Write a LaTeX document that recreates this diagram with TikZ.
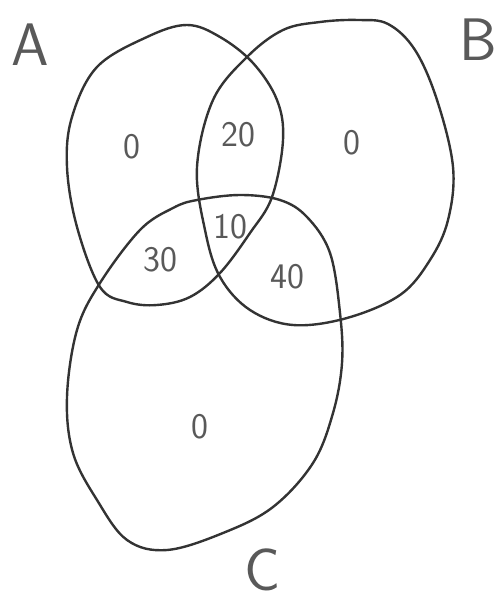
\documentclass[tikz,border=0pt]{standalone}
\begin{document}
\begin{tikzpicture}[x=0.5pt,y=-0.5pt,
  setline/.style={draw=black!80,line width=1.2pt,line join=round},
  letter/.style={text=black!65,font=\sffamily\fontsize{30}{32}\selectfont,inner sep=0pt},
  count/.style={text=black!65,font=\sffamily\fontsize{18}{20}\selectfont,inner sep=0pt}]
\useasboundingbox (0,0) rectangle (499,603);
% set A
\draw[setline] plot[smooth cycle,tension=0.6] coordinates {
 (147,37) (97,67) (72,117) (67,167) (77,227) (100,287) (127,302) (157,305)
 (190,297) (220,273) (250,233) (272,197) (283,140) (277,100) (253,63)
 (220,37) (187,25)};
% set B
\draw[setline] plot[smooth cycle,tension=0.6] coordinates {
 (197,167) (213,100) (247,57) (283,30) (320,22) (358,20) (388,24) (415,50)
 (437,100) (453,167) (448,220) (430,260) (400,295) (347,318) (293,325)
 (250,310) (220,277) (205,230)};
% set C
\draw[setline] plot[smooth cycle,tension=0.6] coordinates {
 (197,200) (240,195) (280,200) (307,217) (330,253) (340,313) (342,363)
 (333,413) (313,463) (273,507) (223,533) (167,550) (127,540) (97,500)
 (73,453) (67,397) (77,330) (100,283) (140,230) (173,208)};
% set labels
\node[letter] (la) at (30,45) {A};
\node[letter] (lb) at (478,40) {B};
\node[letter] (lc) at (263,570) {C};
% region counts
\node[count] (onlyA) at (132,147) {0};
\node[count] (ab) at (238,135) {20};
\node[count] (onlyB) at (352,143) {0};
\node[count] (abc) at (230,227) {10};
\node[count] (ac) at (160,260) {30};
\node[count] (bc) at (287,277) {40};
\node[count] (onlyC) at (200,427) {0};
\end{tikzpicture}
\end{document}
